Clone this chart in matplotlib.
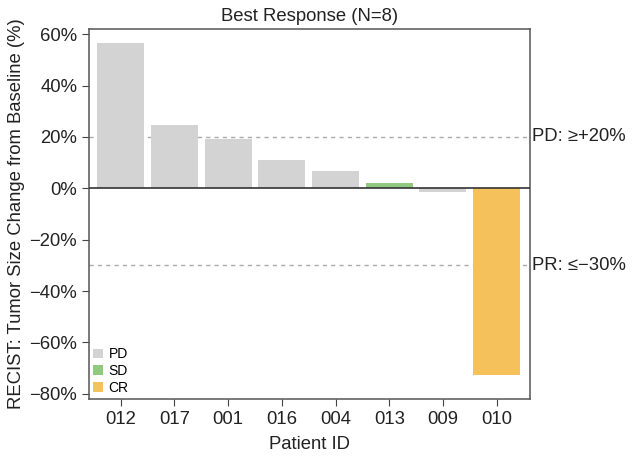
import matplotlib
matplotlib.use("Agg")
import matplotlib.pyplot as plt
from matplotlib.patches import Patch

plt.rcParams['font.family'] = ['Liberation Sans', 'DejaVu Sans']

patients = ["012", "017", "001", "016", "004", "013", "009", "010"]
changes = [56.4, 24.5, 19.3, 10.9, 6.8, 2.2, -1.4, -72.6]
responses = ["PD", "PD", "PD", "PD", "PD", "SD", "PD", "CR"]
resp_colors = {"PD": "#D3D3D3", "SD": "#90C97F", "CR": "#F5C15A"}
yticks = [-80, -60, -40, -20, 0, 20, 40, 60]
pd_thr = 20
pr_thr = -30

FS = 13.3

fig = plt.figure(figsize=(6.34, 4.58), dpi=100)
ax = fig.add_axes([89/634, 1-399/458, (530-89)/634, (399-29)/458])

x = list(range(len(patients)))
ax.bar(x, changes, width=0.875, color=[resp_colors[r] for r in responses], zorder=2)
ax.axhline(0, color="#333333", lw=1.2, zorder=3)
ax.axhline(pd_thr, color="#AAAAAA", lw=1, ls=(0, (3, 3)), zorder=1)
ax.axhline(pr_thr, color="#AAAAAA", lw=1, ls=(0, (3, 3)), zorder=1)

ax.set_xlim(-0.59, 7.62)
ax.set_ylim(-82, 62)
ax.set_xticks(x)
ax.set_xticklabels(patients)
ax.set_yticks(yticks)
ax.set_yticklabels([f"{v}%".replace("-", "\u2212") for v in yticks])
ax.tick_params(axis="both", labelsize=FS, color="#444444", length=5, width=0.8, labelcolor="#222222", direction="out")

for s in ax.spines.values():
    s.set_color("#555555")
    s.set_linewidth(1.1)

ax.set_xlabel("Patient ID", fontsize=FS, color="#222222", labelpad=6)
ax.set_ylabel("RECIST: Tumor Size Change from Baseline (%)", fontsize=FS, color="#222222", labelpad=3)
ax.set_title("Best Response (N=8)", fontsize=FS, color="#222222", pad=6)

ax.text(1.005, pd_thr, "PD: \u2265+20%", transform=ax.get_yaxis_transform(), va="center", ha="left", fontsize=FS, color="#222222")
ax.text(1.005, pr_thr, "PR: \u2264\u221230%", transform=ax.get_yaxis_transform(), va="center", ha="left", fontsize=FS, color="#222222")

handles = [Patch(facecolor=resp_colors[k], edgecolor="none", label=k) for k in ["PD", "SD", "CR"]]
ax.legend(handles=handles, loc="lower left", frameon=False, fontsize=10, handlelength=0.7, handleheight=0.7,
          handletextpad=0.4, labelspacing=0.2, borderaxespad=0.1, borderpad=0.2)

fig.savefig("out.png", dpi=100)
